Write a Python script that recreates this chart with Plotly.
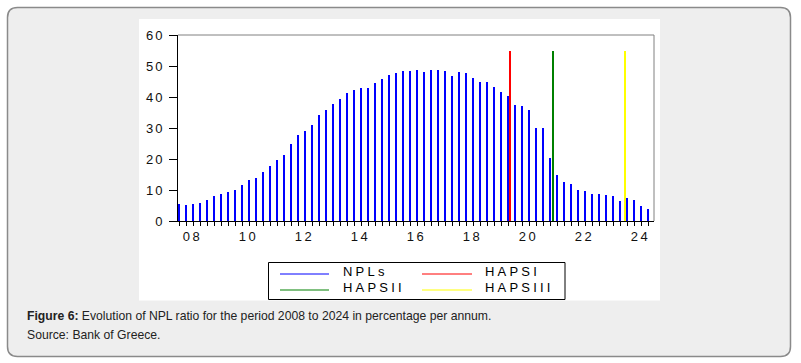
import plotly.graph_objects as go

# ---------------- data ----------------
years = list(range(2008, 2025))
quarters = [f"{y}Q{q}" for y in years for q in range(1, 5)]
npl = [5.6, 5.2, 5.6, 5.9, 6.9, 8.2, 8.8, 9.4,
       10.1, 11.7, 13.3, 14.0, 15.8, 17.6, 19.7, 21.4,
       25.0, 27.6, 29.0, 31.1, 34.3, 35.7, 37.8, 39.3,
       41.2, 42.4, 43.0, 43.0, 44.4, 45.9, 47.2, 47.7,
       48.5, 48.5, 48.8, 48.2, 48.8, 48.8, 48.5, 46.9,
       48.2, 47.6, 46.2, 44.9, 44.7, 43.3, 41.7, 40.4,
       37.5, 37.2, 35.9, 30.1, 30.1, 20.4, 14.9, 12.6,
       12.0, 10.0, 9.7, 8.7, 8.7, 8.4, 8.1, 6.6,
       7.3, 6.8, 4.7, 3.9]
haps_names = ["HAPSI", "HAPSII", "HAPSIII"]
haps_dates = [2019.82, 2021.36, 2023.93]
haps_values = [55, 55, 55]
haps_colors = ["#ff0000", "#008000", "#ffff00"]
year_labels = [f"{y % 100:02d}" for y in years if y % 2 == 0]
y_ticks = [0, 10, 20, 30, 40, 50, 60]

x_npl = [int(q[:4]) + (int(q[-1]) - 1) / 4 for q in quarters]

# ---------------- geometry helpers (pixels -> paper) ----------------
W, H = 801, 363
L, R, T, B = 178, 654, 35, 221
PW, PH = R - L, B - T


def px(x):
    return (x - L) / PW


def py(y):
    return (B - y) / PH


def sp(text, ls):
    return f'<span style="letter-spacing:{ls}px">{text}</span>'


fig = go.Figure()
fig.add_trace(go.Bar(x=x_npl, y=npl, width=0.08, marker=dict(color="#0000ff", line=dict(width=0)),
                     name="NPLs", showlegend=False, hoverinfo="x+y"))
for n, d, v, c in zip(haps_names, haps_dates, haps_values, haps_colors):
    fig.add_trace(go.Bar(x=[d], y=[v], width=0.085, marker=dict(color=c, line=dict(width=0)),
                         name=n, showlegend=False))

shapes = []


def rounded(x0, y0, x1, y1, r):
    pts = [("M", x0 + r, y0), ("L", x1 - r, y0), ("Q", x1, y0, x1, y0 + r), ("L", x1, y1 - r),
           ("Q", x1, y1, x1 - r, y1), ("L", x0 + r, y1), ("Q", x0, y1, x0, y1 - r),
           ("L", x0, y0 + r), ("Q", x0, y0, x0 + r, y0)]
    s = ""
    for p in pts:
        if p[0] == "Q":
            s += f"Q{px(p[1]):.5f},{py(p[2]):.5f} {px(p[3]):.5f},{py(p[4]):.5f} "
        else:
            s += f"{p[0]}{px(p[1]):.5f},{py(p[2]):.5f} "
    return s + "Z"


shapes.append(dict(type="path", xref="paper", yref="paper", path=rounded(7.5, 7.5, 790.5, 356.5, 10),
                   fillcolor="#eeeeee", line=dict(color="#8a8a8a", width=1.5), layer="below"))
shapes.append(dict(type="rect", xref="paper", yref="paper", x0=px(139), x1=px(660), y0=py(300.5), y1=py(19),
                   fillcolor="white", line=dict(width=0), layer="below"))
# gray frame top/right
shapes.append(dict(type="line", xref="paper", yref="paper", x0=0, x1=1, y0=1, y1=1,
                   line=dict(color="#808080", width=1)))
shapes.append(dict(type="line", xref="paper", yref="paper", x0=1, x1=1, y0=0, y1=1,
                   line=dict(color="#808080", width=1)))
# legend box
shapes.append(dict(type="rect", xref="paper", yref="paper", x0=px(268.5), x1=px(565), y0=py(299.5), y1=py(262.5),
                   fillcolor="rgba(0,0,0,0)", line=dict(color="black", width=1)))

annotations = []
leg_items = [("NPLs", "#0000ff", 280, 329, 341, 274, 271),
             ("HAPSI", haps_colors[0], 422, 472, 483, 274, 271),
             ("HAPSII", haps_colors[1], 280, 329, 341, 290, 287),
             ("HAPSIII", haps_colors[2], 422, 472, 483, 290, 287)]
for name, col, lx0, lx1, tx, ly, ty in leg_items:
    shapes.append(dict(type="line", xref="paper", yref="paper", x0=px(lx0), x1=px(lx1), y0=py(ly), y1=py(ly),
                       line=dict(color=col, width=1)))
    annotations.append(dict(xref="paper", yref="paper", x=px(tx), y=py(ty), xanchor="left", yanchor="middle",
                            showarrow=False, text=sp(name, 3.2),
                            font=dict(family="Liberation Sans, Arial", size=13, color="black")))

annotations.append(dict(xref="paper", yref="paper", x=px(25), y=py(316), xanchor="left", yanchor="middle",
                        showarrow=False,
                        text="<b>Figure 6:</b> Evolution of NPL ratio for the period 2008 to 2024 in percentage per annum.",
                        font=dict(family="Liberation Sans, Arial", size=12.2, color="#222222")))
annotations.append(dict(xref="paper", yref="paper", x=px(25), y=py(335), xanchor="left", yanchor="middle",
                        showarrow=False, text="Source: Bank of Greece.",
                        font=dict(family="Liberation Sans, Arial", size=12.2, color="#222222")))

tick_font = dict(family="Liberation Sans, Arial", size=13, color="#111111")
fig.update_layout(
    width=W, height=H, autosize=False,
    margin=dict(l=L, r=W - R, t=T, b=H - B, pad=0),
    paper_bgcolor="white", plot_bgcolor="rgba(0,0,0,0)",
    showlegend=False, bargap=0,
    shapes=shapes, annotations=annotations,
    xaxis=dict(range=[2008 - 1 / 28, 2008 + 475 / 28], showgrid=False, zeroline=False,
               showline=True, linecolor="black", linewidth=1,
               tickmode="array", tickvals=[y + 0.48 for y in years if y % 2 == 0],
               ticktext=[sp(t, 2.5) for t in year_labels], ticks="", ticklabelstandoff=3,
               tickfont=tick_font,
               minor=dict(tickmode="array", tickvals=x_npl, ticks="outside", ticklen=4,
                          tickcolor="black", tickwidth=1, showgrid=False)),
    yaxis=dict(range=[0, 60], showgrid=False, zeroline=False, showline=True, linecolor="black", linewidth=1,
               tickmode="array", tickvals=y_ticks, ticktext=[sp(str(t), 2) for t in y_ticks],
               ticks="outside", ticklen=8, tickcolor="black", tickwidth=1, ticklabelstandoff=2,
               tickfont=tick_font),
)
fig.write_html("out.html", config={"displayModeBar": False},
               post_script="document.body.style.margin='0';document.body.style.overflow='hidden';")
